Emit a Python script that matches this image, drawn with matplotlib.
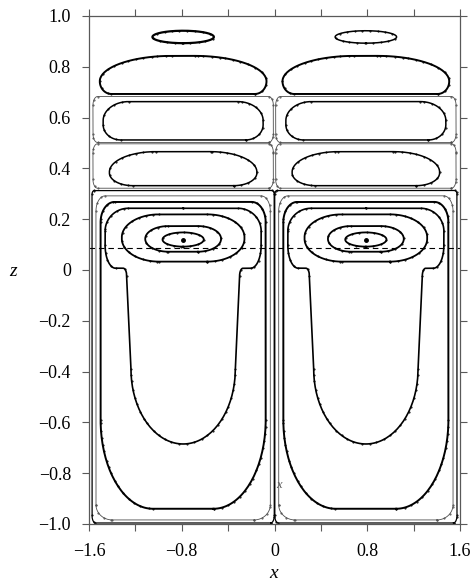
import numpy as np
import matplotlib.pyplot as plt

plt.rcParams['font.family'] = ['Liberation Serif', 'DejaVu Serif']

# centres (x) of the two roll cells
cell_x = [-0.788, 0.788]

# closed streamlines, drawn as rounded boxes in each cell
# half width, bottom z, top z, top corner (rx, rz), bottom corner (rx, rz), line width
curve_hw = [0.265, 0.719, 0.778, 0.690, 0.778, 0.636, 0.786, 0.752, 0.712, 0.529, 0.327, 0.178]
curve_zbot = [0.893, 0.693, 0.502, 0.512, 0.322, 0.332, -0.996, -0.984, -0.940, 0.033, 0.072, 0.092]
curve_ztop = [0.942, 0.843, 0.683, 0.663, 0.497, 0.466, 0.313, 0.292, 0.268, 0.219, 0.173, 0.148]
curve_rtop = [(0.265, 0.0245), (0.62, 0.10), (0.04, 0.035), (0.22, 0.075), (0.04, 0.035), (0.40, 0.08),
              (0.02, 0.015), (0.08, 0.06), (0.12, 0.08), (0.32, 0.09), (0.20, 0.05), (0.178, 0.028)]
curve_rbot = [(0.265, 0.0245), (0.10, 0.05), (0.04, 0.035), (0.15, 0.06), (0.04, 0.035), (0.20, 0.05),
              (0.03, 0.03), (0.14, 0.06), (0.45, 0.35), (0.32, 0.09), (0.20, 0.05), (0.178, 0.028)]
curve_lw = [1.6, 1.4, 0.6, 1.1, 0.6, 1.1, 0.9, 0.6, 1.4, 1.3, 1.3, 1.3]

# keyhole shaped streamline in the lower cell
key_hw = 0.673
key_ztop = 0.243
key_zneck = 0.007
key_stem_hw = 0.487
key_stem_hw2 = 0.45
key_zstem = -0.39
key_zbot = -0.685

eye_z = 0.118
dash_z = 0.088


def rounded_box(cx, hw, zb, zt, rt, rb, n=40):
    rtx, rtz = rt
    rbx, rbz = rb
    a1 = np.linspace(-np.pi / 2, 0, n)
    a2 = np.linspace(0, np.pi / 2, n)
    a3 = np.linspace(np.pi / 2, np.pi, n)
    a4 = np.linspace(np.pi, 1.5 * np.pi, n)
    xs = np.concatenate([cx + hw - rbx + rbx * np.cos(a1), cx + hw - rtx + rtx * np.cos(a2),
                         cx - hw + rtx + rtx * np.cos(a3), cx - hw + rbx + rbx * np.cos(a4)])
    zs = np.concatenate([zb + rbz + rbz * np.sin(a1), zt - rtz + rtz * np.sin(a2),
                         zt - rtz + rtz * np.sin(a3), zb + rbz + rbz * np.sin(a4)])
    return np.append(xs, xs[0]), np.append(zs, zs[0])


def keyhole(cx, n=40):
    rt = (0.20, 0.09)
    rn = (0.09, 0.09)
    rc = 0.03
    a = np.linspace(np.pi / 2, 0, n)
    x1 = key_hw - rt[0] + rt[0] * np.cos(a)
    z1 = key_ztop - rt[1] + rt[1] * np.sin(a)
    a = np.linspace(0, -np.pi / 2, n)
    x2 = key_hw - rn[0] + rn[0] * np.cos(a)
    z2 = key_zneck + rn[1] + rn[1] * np.sin(a)
    a = np.linspace(np.pi / 2, np.pi, n)
    x3 = key_stem_hw + rc + rc * np.cos(a)
    z3 = key_zneck - rc + rc * np.sin(a)
    x4 = np.array([key_stem_hw2])
    z4 = np.array([key_zstem])
    a = np.linspace(0, -np.pi / 2, n)
    x5 = key_stem_hw2 * np.cos(a)
    z5 = key_zstem + (key_zstem - key_zbot) * np.sin(a)
    xr = np.concatenate([[0], x1, x2, x3, x4, x5])
    zr = np.concatenate([[key_ztop], z1, z2, z3, z4, z5])
    xs = np.concatenate([xr, -xr[::-1]]) + cx
    zs = np.concatenate([zr, zr[::-1]])
    return xs, zs


fig = plt.figure(figsize=(4.74, 5.8), dpi=100)
ax = fig.add_axes([89 / 474, 56 / 580, 371 / 474, 508 / 580])

for j, cx in enumerate(cell_x):
    for i in range(len(curve_hw)):
        lw = curve_lw[i]
        if i == 0 and j == 1:
            lw = 1.1
        col = 'black' if lw > 0.8 else '0.3'
        x, z = rounded_box(cx, curve_hw[i], curve_zbot[i], curve_ztop[i], curve_rtop[i], curve_rbot[i])
        ax.plot(x, z, color=col, lw=lw, marker='.', ms=1.0, markevery=0.012)
    x, z = keyhole(cx)
    ax.plot(x, z, color='black', lw=1.2, marker='.', ms=1.0, markevery=0.012)
    ax.plot([cx], [eye_z], 'o', color='black', ms=2.5)

ax.axhline(dash_z, color='black', lw=0.8, ls=(0, (5, 3.5)))
ax.text(0.035, -0.846, 'x', fontsize=9, style='italic', color='0.35', ha='center', va='center')

ax.set_xlim(-1.6, 1.6)
ax.set_ylim(-1.0, 1.0)
xt = [-1.6, -1.2, -0.8, -0.4, 0, 0.4, 0.8, 1.2, 1.6]
xl = ['\u22121.6', '', '\u22120.8', '', '0', '', '0.8', '', '1.6']
yt = [-1.0, -0.8, -0.6, -0.4, -0.2, 0, 0.2, 0.4, 0.6, 0.8, 1.0]
yl = ['\u22121.0', '\u22120.8', '\u22120.6', '\u22120.4', '\u22120.2', '0', '0.2', '0.4', '0.6', '0.8', '1.0']
ax.set_xticks(xt)
ax.set_xticklabels(xl)
ax.set_yticks(yt)
ax.set_yticklabels(yl)
ax.tick_params(direction='out', length=5, width=0.8, color='0.35', labelsize=13,
               top=True, right=True)
ax.tick_params(axis='x', pad=9)
ax.tick_params(axis='y', pad=8)
for s in ax.spines.values():
    s.set_color('0.35')
    s.set_linewidth(0.9)

fig.text(13 / 474, 1 - 272 / 580, 'z', fontsize=14, style='italic', ha='center', va='center')
fig.text(274 / 474, 1 - 573 / 580, 'x', fontsize=14, style='italic', ha='center', va='center')

fig.savefig('out.png', dpi=100)
